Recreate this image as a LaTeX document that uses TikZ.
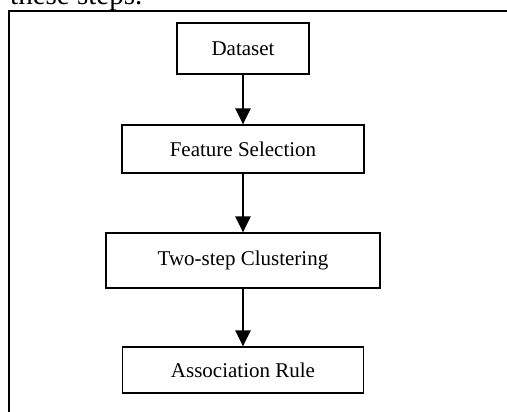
\documentclass[tikz,border=0pt]{standalone}
\usepackage{fontspec}
\setmainfont{Liberation Serif}
\usetikzlibrary{arrows.meta}

\begin{document}
\begin{tikzpicture}[x=1pt, y=-1pt, >={Triangle[length=16pt, width=15pt]},
    stepbox/.style={draw, line width=1.2pt, inner sep=0pt,
        font=\fontsize{21}{25}\selectfont},
    flow/.style={->, line width=2.3pt}]
    \useasboundingbox (0,0) rectangle (507,412);

    % tail of the sentence above the frame
    \node[anchor=base west, inner sep=0pt, font=\fontsize{29}{34}\selectfont]
        (intro) at (10,4.5) {these steps.};

    % frame: only the top and left edges
    \draw[line width=2pt] (9,412) -- (9,11) -- (507,11);

    % the four steps
    \node[stepbox, minimum width=132pt, minimum height=51pt] (dataset) at (243,48.5) {Dataset};
    \node[stepbox, minimum width=242pt, minimum height=48pt] (featsel) at (243,149) {Feature Selection};
    \node[stepbox, minimum width=274pt, minimum height=55pt] (twostep) at (243,260.5) {Two-step Clustering};
    \node[stepbox, minimum width=241pt, minimum height=46pt] (assoc) at (243,370) {Association Rule};

    % arrows between them
    \draw[flow] (dataset) -- (featsel);
    \draw[flow] (featsel) -- (twostep);
    \draw[flow] (twostep) -- (assoc);
\end{tikzpicture}
\end{document}
